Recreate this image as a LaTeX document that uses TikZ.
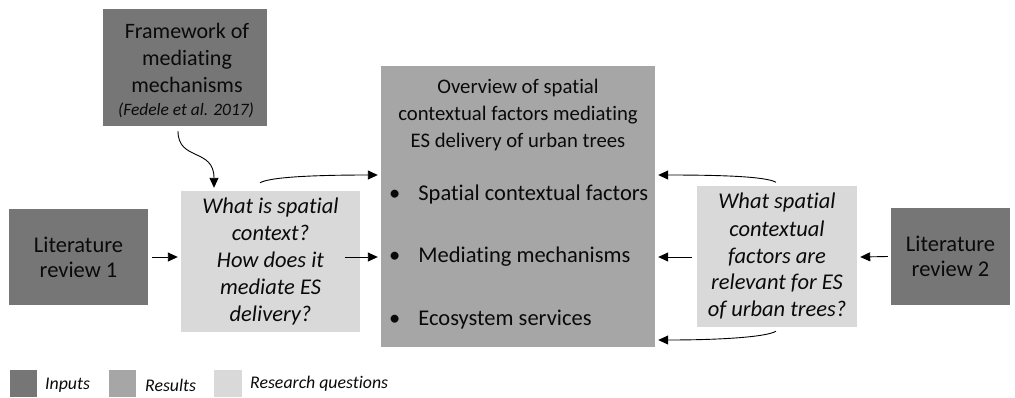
\documentclass[tikz,border=0pt]{standalone}
\usepackage{fontspec}
\setmainfont{Carlito}[RawFeature={-liga;-dlig}]
\usetikzlibrary{arrows.meta}
\definecolor{dk}{HTML}{767676}
\definecolor{md}{HTML}{A6A6A6}
\definecolor{lt}{HTML}{D9D9D9}
\definecolor{tx}{HTML}{0A0A0A}
\begin{document}
\begin{tikzpicture}[x=1pt,y=-1pt,
  box/.style={rectangle,inner sep=0pt,align=center,text=tx},
  inbox/.style={box,fill=dk,font=\fontsize{22.5}{25}\selectfont},
  qbox/.style={box,fill=lt,font=\fontsize{22.5}{27}\selectfont\itshape},
  arr/.style={line width=0.9pt,-{Triangle[length=10pt,width=9pt]}},
  lbl/.style={anchor=west,inner sep=0pt,text=tx,font=\fontsize{17.8}{20}\selectfont\itshape}]
\useasboundingbox (0,0) rectangle (1015,397);
% boxes
\node[inbox,minimum width=164pt,minimum height=117pt] (fw) at (185,67.5) {};
\node[box,font=\fontsize{22}{27}\selectfont] (fwt) at (187,58) {Framework of\\mediating\\mechanisms};
\node[box,font=\fontsize{17.4}{20}\selectfont\itshape] (fwc) at (186,110) {(Fedele et al. 2017)};
\node[inbox,minimum width=139pt,minimum height=96pt] (l1) at (78.5,257) {Literature\\review 1};
\node[qbox,minimum width=179pt,minimum height=141pt] (q1) at (270.5,261.5) {What is spatial\\context?\\How does it\\mediate ES\\delivery?};
\node[box,fill=md,minimum width=274pt,minimum height=281pt] (res) at (518,206.5) {};
\node[box,font=\fontsize{20.7}{27}\selectfont] (rt) at (518,115) {Overview of spatial\\contextual factors mediating\\ES delivery of urban trees};
\node[box,anchor=west,font=\fontsize{22.5}{24}\selectfont] (b1) at (389,194) {\textbullet\hspace{18pt}Spatial contextual factors};
\node[box,anchor=west,font=\fontsize{22.5}{24}\selectfont] (b2) at (389,257) {\textbullet\hspace{18pt}Mediating mechanisms};
\node[box,anchor=west,font=\fontsize{22.5}{24}\selectfont] (b3) at (389,320) {\textbullet\hspace{18pt}Ecosystem services};
\node[qbox,minimum width=160pt,minimum height=141pt] (q2) at (777,256.5) {What spatial\\contextual\\factors are\\relevant for ES\\of urban trees?};
\node[inbox,minimum width=119pt,minimum height=97pt] (l2) at (950.5,256.5) {Literature\\review 2};
% connectors
\coordinate (fwS) at ([xshift=-7pt,yshift=-5pt]fw.south);
\coordinate (q1T) at ([xshift=-56.5pt,yshift=3pt]q1.north);
\draw[arr] (fwS) .. controls ([yshift=-30pt]fwS) and ([yshift=40pt]q1T) .. (q1T);
\coordinate (q1A) at ([xshift=-10.5pt,yshift=8pt]q1.north);
\coordinate (rA) at ([xshift=-3pt,yshift=31.5pt]res.west);
\draw[arr] (q1A) .. controls ([xshift=10pt,yshift=6pt]q1A) and ([xshift=-60pt]rA) .. (rA);
\draw[arr] ([xshift=4pt]l1.east) -- ([xshift=-3pt]l1.east -| q1.west);
\draw[arr] ([xshift=-15pt,yshift=4.5pt]q1.east) -- ([xshift=-3pt,yshift=-50.5pt]res.west);
\coordinate (q2A) at ([xshift=-1pt,yshift=3.5pt]q2.north);
\coordinate (rB) at ([xshift=3pt,yshift=31.5pt]res.east);
\draw[arr] (q2A) .. controls ([xshift=-10pt,yshift=6pt]q2A) and ([xshift=60pt]rB) .. (rB);
\draw[arr] ([xshift=-5pt,yshift=-0.5pt]q2.west) -- ([xshift=3pt,yshift=-50.5pt]res.east);
\coordinate (q2B) at ([xshift=-1pt,yshift=-4pt]q2.south);
\coordinate (rC) at ([xshift=3pt,yshift=-133.5pt]res.east);
\draw[arr] (q2B) .. controls ([xshift=-10pt,yshift=-6pt]q2B) and ([xshift=60pt]rC) .. (rC);
\draw[arr] ([xshift=-3pt]l2.west) -- ([xshift=3pt,yshift=-0.5pt]q2.east);
% legend
\node[box,fill=dk,minimum width=27pt,minimum height=27pt] (k1) at (23.5,383.5) {};
\node[lbl] (k1t) at (45,385) {Inputs};
\node[box,fill=md,minimum width=27pt,minimum height=27pt] (k2) at (122.5,383.5) {};
\node[lbl] (k2t) at (145,385) {Results};
\node[box,fill=lt,minimum width=28pt,minimum height=27pt] (k3) at (228,383.5) {};
\node[lbl] (k3t) at (250,384) {Research questions};
\end{tikzpicture}
\end{document}
